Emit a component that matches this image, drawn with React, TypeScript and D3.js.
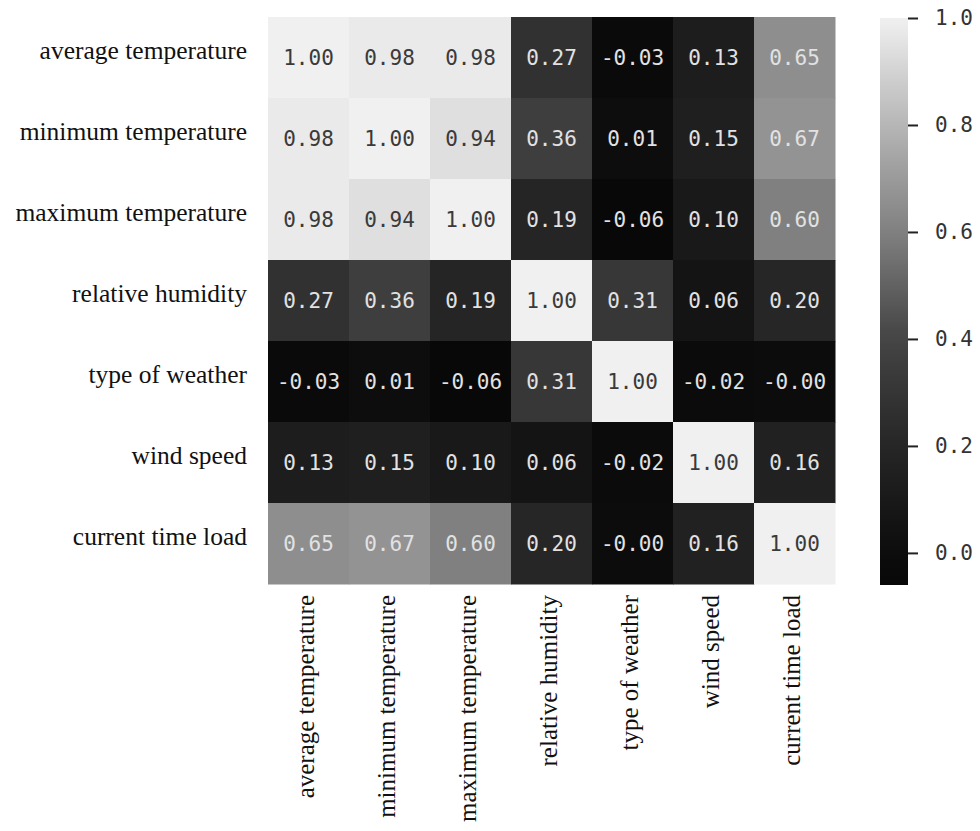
import React, { useRef, useEffect } from 'react';
import * as d3 from 'd3';

// variable names, same order for rows and columns
const labels = [
  'average temperature',
  'minimum temperature',
  'maximum temperature',
  'relative humidity',
  'type of weather',
  'wind speed',
  'current time load',
];

// correlation matrix, one array per row
const avgTemp = [1.0, 0.98, 0.98, 0.27, -0.03, 0.13, 0.65];
const minTemp = [0.98, 1.0, 0.94, 0.36, 0.01, 0.15, 0.67];
const maxTemp = [0.98, 0.94, 1.0, 0.19, -0.06, 0.1, 0.6];
const humidity = [0.27, 0.36, 0.19, 1.0, 0.31, 0.06, 0.2];
const weatherType = [-0.03, 0.01, -0.06, 0.31, 1.0, -0.02, -0.004];
const windSpeed = [0.13, 0.15, 0.1, 0.06, -0.02, 1.0, 0.16];
const currentLoad = [0.65, 0.67, 0.6, 0.2, -0.004, 0.16, 1.0];

const colorbarTicks = [0.0, 0.2, 0.4, 0.6, 0.8, 1.0];

const fmt = (v: number) => (v < 0 ? '-' : '') + Math.abs(v).toFixed(2);

const App = () => {
  const svgRef = useRef<SVGSVGElement>(null);

  useEffect(() => {
    const width = 980;
    const height = 831;
    const left = 268;
    const top = 17;
    const size = 567;

    const matrix = [avgTemp, minTemp, maxTemp, humidity, weatherType, windSpeed, currentLoad];
    const cells = matrix.flatMap((row, i) => row.map((v, j) => ({ r: labels[i], c: labels[j], v })));

    const vmin = d3.min(cells, d => d.v) as number;
    const vmax = d3.max(cells, d => d.v) as number;

    // grey ramp, a bit darker in the middle than plain linear grey
    const grey = d3.scaleLinear<number>()
      .domain([-0.06, 0, 0.2, 0.4, 0.6, 0.8, 1.0])
      .range([8, 12, 38, 68, 128, 182, 240])
      .clamp(true);
    const color = (v: number) => { const g = Math.round(grey(v)); return `rgb(${g},${g},${g})`; };

    const svg = d3.select(svgRef.current);
    svg.selectAll('*').remove();
    svg.attr('width', width).attr('height', height);

    svg.append('rect').attr('width', width).attr('height', height).attr('fill', '#fff');

    const x = d3.scaleBand().domain(labels).range([left, left + size]);
    const y = d3.scaleBand().domain(labels).range([top, top + size]);

    // cells
    svg.append('g')
      .selectAll('rect')
      .data(cells)
      .enter()
      .append('rect')
      .attr('x', d => x(d.c)!)
      .attr('y', d => y(d.r)!)
      .attr('width', x.bandwidth() + 0.5)
      .attr('height', y.bandwidth() + 0.5)
      .attr('fill', d => color(d.v));

    // annotations
    svg.append('g')
      .selectAll('text')
      .data(cells)
      .enter()
      .append('text')
      .attr('x', d => x(d.c)! + x.bandwidth() / 2)
      .attr('y', d => y(d.r)! + y.bandwidth() / 2)
      .attr('dy', '0.36em')
      .attr('text-anchor', 'middle')
      .style('font-family', '"DejaVu Sans Mono", monospace')
      .style('font-size', '21px')
      .attr('fill', d => (grey(d.v) > 180 ? '#3a3a3a' : '#e2e2e2'))
      .text(d => fmt(d.v));

    // row labels
    svg.append('g')
      .selectAll('text')
      .data(labels)
      .enter()
      .append('text')
      .attr('x', 247)
      .attr('y', d => y(d)! + y.bandwidth() / 2)
      .attr('dy', '0.05em')
      .attr('text-anchor', 'end')
      .style('font-family', '"Liberation Serif", "Times New Roman", serif')
      .style('font-size', '25.5px')
      .attr('fill', '#111')
      .text(d => d);

    // column labels, rotated
    svg.append('g')
      .selectAll('text')
      .data(labels)
      .enter()
      .append('text')
      .attr('transform', d => `translate(${x(d)! + x.bandwidth() / 2 - 3},${top + size + 11}) rotate(-90)`)
      .attr('dy', '0.35em')
      .attr('text-anchor', 'end')
      .style('font-family', '"Liberation Serif", "Times New Roman", serif')
      .style('font-size', '25px')
      .attr('fill', '#111')
      .text(d => d);

    // colorbar
    const cbX = 880;
    const cbW = 28;
    const cbY = d3.scaleLinear().domain([vmin, vmax]).range([top + size + 1, top + 1]);

    const grad = svg.append('defs').append('linearGradient')
      .attr('id', 'cbGrad')
      .attr('x1', 0).attr('y1', 1).attr('x2', 0).attr('y2', 0);
    d3.range(0, 1.0001, 0.05).forEach(t => {
      const v = vmin + t * (vmax - vmin);
      grad.append('stop').attr('offset', t).attr('stop-color', color(v));
    });

    svg.append('rect')
      .attr('x', cbX)
      .attr('y', cbY(vmax))
      .attr('width', cbW)
      .attr('height', cbY(vmin) - cbY(vmax))
      .attr('fill', 'url(#cbGrad)');

    const cbAxis = svg.append('g')
      .attr('transform', `translate(${cbX + cbW},0)`)
      .call(d3.axisRight(cbY).tickValues(colorbarTicks).tickFormat(d3.format('.1f')).tickSize(10).tickPadding(17));
    cbAxis.select('.domain').remove();
    cbAxis.selectAll('line').attr('stroke', '#222').attr('stroke-width', 2);
    cbAxis.selectAll('text')
      .style('font-family', '"DejaVu Sans Mono", monospace')
      .style('font-size', '21px')
      .attr('fill', '#333');
  }, []);

  return (
    <svg ref={svgRef} style={{ position: 'absolute', left: 0, top: 0 }}></svg>
  );
};

export default App;
